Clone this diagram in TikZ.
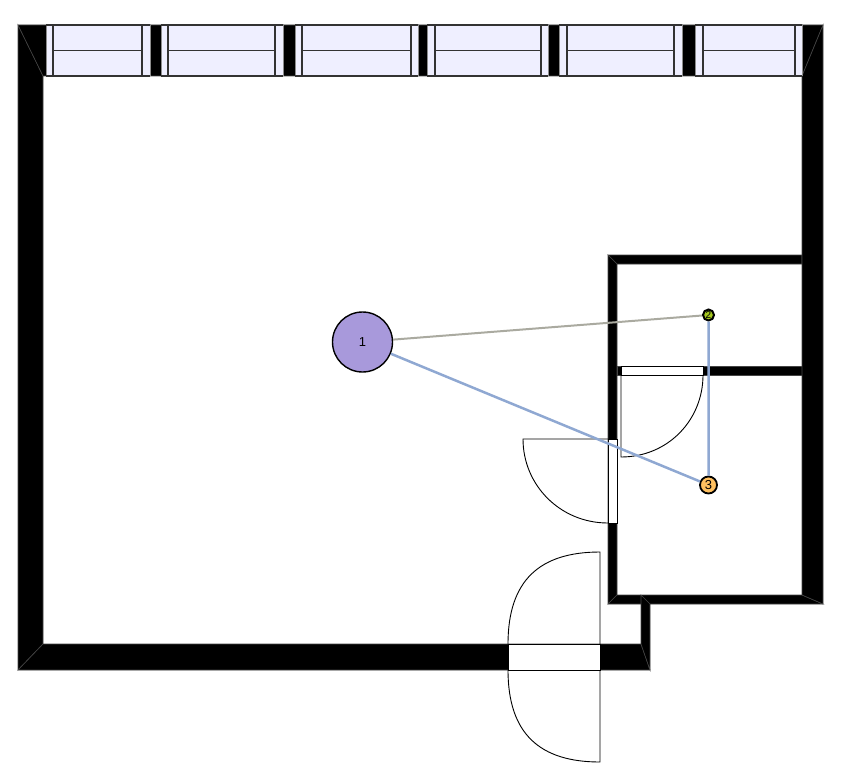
\documentclass[tikz,border=0pt]{standalone}
\usepackage{fontspec}
\setmainfont{Liberation Sans}
\definecolor{glassfill}{HTML}{EFEFFF}
\definecolor{edgegray}{HTML}{444444}
\definecolor{linkgray}{HTML}{AAAAA0}
\definecolor{linkblue}{HTML}{8FA8D2}
\definecolor{nodepurple}{HTML}{A899DB}
\definecolor{nodegreen}{HTML}{A5C81E}
\definecolor{nodeorange}{HTML}{FFC060}
\tikzset{
  wall/.style={fill=black,draw=edgegray,line width=0.6pt},
  pane/.style={fill=glassfill,draw=black!45,line width=1pt},
  glass/.style={draw=black!80,line width=1.1pt},
  doorway/.style={fill=white,draw=black,line width=1pt},
  leaf/.style={draw=black,line width=0.9pt},
  station/.style={draw=black,shape=circle,inner sep=0pt,line width=1.4pt},
}
\newcommand{\glasspane}[4]{%
  \draw[pane] (#1,25) rectangle (#4,76);
  \draw[glass] (#1,25) -- (#4,25) (#1,76) -- (#4,76);
  \draw[glass] (#2,25) -- (#2,76) (#3,25) -- (#3,76);
  \draw[glass] (#2,50.5) -- (#3,50.5);
}
\begin{document}
\begin{tikzpicture}[x=1pt,y=-1pt]
  \useasboundingbox (0,0) rectangle (866,762);
  %outer walls
  \draw[wall] (18,25)--(43,76)--(43,644)--(18,670)--cycle;
  \draw[wall] (18,670)--(43,644)--(641,644)--(650,670)--cycle;
  \draw[wall] (18,25)--(823,25)--(802,76)--(43,76)--cycle;
  %small room
  \draw[wall] (608,255)--(802,255)--(802,264)--(617,264)--cycle;
  \draw[wall] (608,255)--(617,264)--(617,595)--(608,604)--cycle;
  \draw[wall] (608,604)--(617,595)--(802,595)--(823,604)--cycle;
  \draw[wall] (617,366) rectangle (802,375);
  \draw[wall] (823,25)--(802,76)--(802,595)--(823,604)--cycle;
  \draw[wall] (641,644)--(650,670)--(650,604)--(641,595)--cycle;
  %windows
  \glasspane{46}{53}{142}{150}
  \glasspane{161}{168}{275}{283}
  \glasspane{295}{302}{411}{418}
  \glasspane{427}{435}{541}{548}
  \glasspane{559}{567}{674}{682}
  \glasspane{695}{703}{795}{802}
  %doors
  \draw[doorway] (621,366) rectangle (703,375);
  \draw[leaf] (703,375) .. controls (703,420) and (668,457) .. (621,457) -- (621,375);
  \draw[doorway] (608,439) rectangle (617,523);
  \draw[leaf] (608,439) -- (523,439) .. controls (523,485) and (560,523) .. (608,523);
  \draw[doorway] (508,644) rectangle (600,670);
  \draw[leaf] (600,644) -- (600,552) .. controls (540,552) and (508,580) .. (508,644);
  \draw[leaf] (600,670) -- (600,762) .. controls (540,762) and (508,734) .. (508,670);
  %stations
  \node[station,fill=nodepurple,minimum size=60pt,font=\fontsize{13}{13}\selectfont] (1) at (362.5,342) {1};
  \node[station,fill=nodegreen,line width=2pt,minimum size=11pt,font=\fontsize{10}{10}\selectfont] (2) at (708.5,315) {2};
  \node[station,fill=nodeorange,line width=1.8pt,minimum size=17pt,font=\fontsize{13}{13}\selectfont] (3) at (708.5,485) {3};
  \draw[linkgray,line width=2pt] (1)--(2);
  \draw[linkblue,line width=2.5pt] (1)--(3)
  (2)--(3);
\end{tikzpicture}
\end{document}
